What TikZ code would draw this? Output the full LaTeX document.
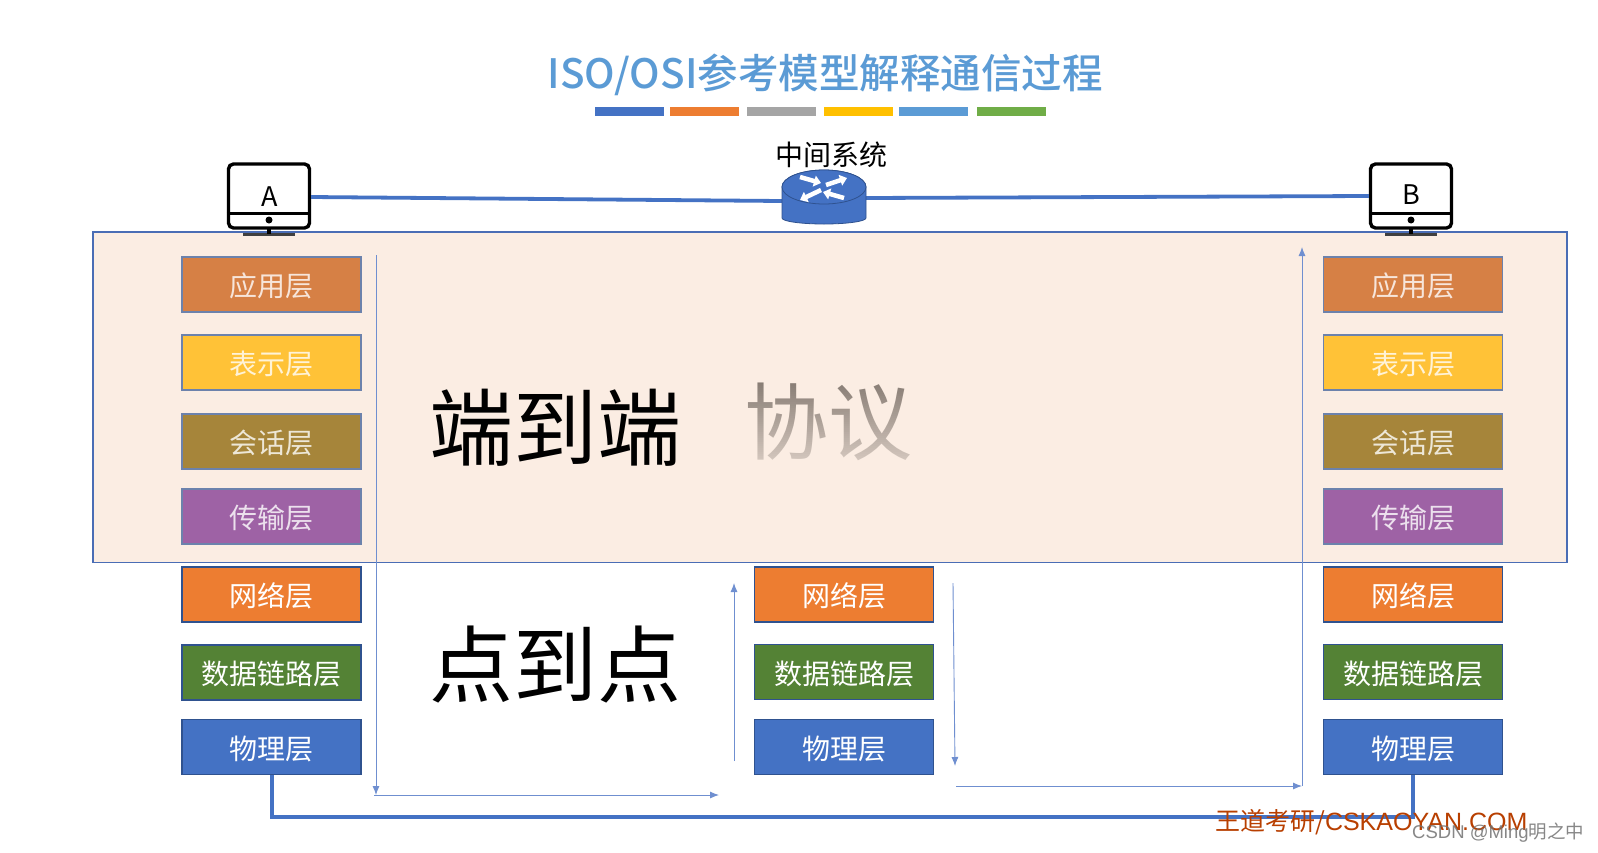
\documentclass[tikz,border=0pt]{standalone}
\usepackage{fontspec}
\setmainfont{Noto Sans CJK SC}
\newfontfamily\latinfont{Liberation Sans}
\newfontfamily\titlefont{Noto Sans CJK SC Medium}
\usetikzlibrary{arrows.meta,calc}
\definecolor{cblue}{HTML}{4472C4}
\definecolor{corange}{HTML}{ED7D31}
\definecolor{cgray}{HTML}{A5A5A5}
\definecolor{cgold}{HTML}{FFC000}
\definecolor{csky}{HTML}{5B9BD5}
\definecolor{cgreen}{HTML}{70AD47}
\definecolor{bandfill}{HTML}{FBEDE3}
\definecolor{bandline}{HTML}{4A6DB5}
\definecolor{appc}{HTML}{D68045}
\definecolor{prec}{HTML}{FFC237}
\definecolor{sesc}{HTML}{A6853A}
\definecolor{trac}{HTML}{9E62A5}
\definecolor{datc}{HTML}{548235}
\definecolor{boxline}{HTML}{2F528F}
\definecolor{boxlinesoft}{HTML}{6C82AC}
\definecolor{thinc}{HTML}{6F8FD0}
\definecolor{markc}{HTML}{B83F00}
\definecolor{protoc}{HTML}{857A72}
\newcommand{\lay}[1]{\raisebox{-1.5pt}[\height][\depth]{#1}}
\tikzset{
  layerbase/.style={minimum width=179pt,minimum height=55pt,inner sep=0pt,font=\fontsize{28}{28}\selectfont},
  uplayer/.style={layerbase,draw=boxlinesoft,line width=1.3pt,text=white!80!#1,fill=#1},
  lowlayer/.style={layerbase,draw=boxline,line width=1.3pt,text=white,fill=#1},
  bar/.style={fill=#1,minimum width=69pt,minimum height=9pt,inner sep=0pt},
  screen/.style={draw=black,line width=3.4pt,rounded corners=5pt,minimum width=81pt,minimum height=64pt,inner sep=0pt,fill=white},
  wire/.style={draw=cblue,line width=3.8pt},
  thinarrow/.style={draw=thinc,line width=0.9pt,-{Latex[length=9pt,width=7pt]}},
  bigtext/.style={font=\fontsize{84}{84}\selectfont,inner sep=0pt},
  turn/.style={draw=white,line width=4.5pt,-{Triangle[length=7pt,width=11pt]}}
}
\begin{document}
\begin{tikzpicture}[x=1pt,y=-1pt]
\useasboundingbox (0,0) rectangle (1598,852);
\fill[white] (0,0) rectangle (1598,852);
% title
\node[inner sep=0pt,text=csky,font=\fontsize{40.5}{40.5}\selectfont\titlefont] (title) at (825,75) {ISO/OSI参考模型解释通信过程};
\node[bar=cblue] (b1) at (629.5,111.5) {};
\node[bar=corange] (b2) at (704.5,111.5) {};
\node[bar=cgray] (b3) at (781.5,111.5) {};
\node[bar=cgold] (b4) at (858,111.5) {};
\node[bar=csky] (b5) at (933.5,111.5) {};
\node[bar=cgreen] (b6) at (1011,111.5) {};
% band
\node[draw=bandline,fill=bandfill,line width=1.3pt,minimum width=1474pt,minimum height=330.5pt,inner sep=0pt] (band) at (830,397.25) {};
% monitors
\draw[line width=2.5pt,black!75] (243,234.5) -- (295,234.5);
\draw[line width=2.5pt,black!75] (1385,234.5) -- (1437,234.5);
\draw[line width=3.4pt] (269,228) -- (269,234);
\draw[line width=3.4pt] (1411,228) -- (1411,234);
\node[screen] (A) at (269,196) {};
\node[screen] (B) at (1411,196) {};
\draw[line width=3pt] (A.west |- 0,213) -- (A.east |- 0,213);
\draw[line width=3pt] (B.west |- 0,213) -- (B.east |- 0,213);
\fill (269,220) circle (3.5pt);
\fill (1411,220) circle (3.5pt);
\node[inner sep=0pt,font=\fontsize{27}{27}\selectfont] (la) at (270,197) {A};
\node[inner sep=0pt,font=\fontsize{27}{27}\selectfont] (lb) at (1411,195) {B};
% router
\node[minimum width=84pt,minimum height=54pt,inner sep=0pt] (router) at (824,197) {};
\draw[wire] ($(A.east)+(0,1)$) -- (router.west |- 0,201);
\draw[wire] (router.east |- 0,198) -- (B.west);
\draw[draw=boxline,line width=0.8pt,fill=cblue] (782,187) -- (782,218) arc[start angle=180,end angle=360,x radius=42pt,y radius=6pt] -- (866,187) arc[start angle=0,end angle=180,x radius=42pt,y radius=17pt];
\draw[draw=boxline,line width=0.8pt,fill=cblue] (824,187) ellipse[x radius=42pt,y radius=17pt];
\draw[turn] (800,177) -- (821,183);
\draw[turn] (826,185) -- (847,178);
\draw[turn] (821,190) -- (800,200);
\draw[turn] (844,198) -- (823,192);
\node[inner sep=0pt,font=\fontsize{28}{28}\selectfont] (midlabel) at (831,154.5) {中间系统};
% layers left
\node[uplayer=appc] (a1) at (271.5,284.5) {\lay{应用层}};
\node[uplayer=prec] (a2) at (271.5,362.5) {\lay{表示层}};
\node[uplayer=sesc] (a3) at (271.5,441.5) {\lay{会话层}};
\node[uplayer=trac] (a4) at (271.5,516.5) {\lay{传输层}};
\node[lowlayer=corange] (a5) at (271.5,594.5) {\lay{网络层}};
\node[lowlayer=datc] (a6) at (271.5,672.5) {\lay{数据链路层}};
\node[lowlayer=cblue] (a7) at (271.5,747) {\lay{物理层}};
% layers middle
\node[lowlayer=corange] (m5) at (844,594.5) {\lay{网络层}};
\node[lowlayer=datc] (m6) at (844,672) {\lay{数据链路层}};
\node[lowlayer=cblue] (m7) at (844,747) {\lay{物理层}};
% layers right
\node[uplayer=appc] (c1) at (1413,284.5) {\lay{应用层}};
\node[uplayer=prec] (c2) at (1413,362.5) {\lay{表示层}};
\node[uplayer=sesc] (c3) at (1413,441.5) {\lay{会话层}};
\node[uplayer=trac] (c4) at (1413,516.5) {\lay{传输层}};
\node[lowlayer=corange] (c5) at (1413,594.5) {\lay{网络层}};
\node[lowlayer=datc] (c6) at (1413,672) {\lay{数据链路层}};
\node[lowlayer=cblue] (c7) at (1413,747) {\lay{物理层}};
% big text
\node[bigtext] (e2e) at (555,428) {端到端};
\node[bigtext,text=protoc] (proto) at (828,422) {协议};
\foreach \i in {0,...,44}{
  \fill[bandfill,opacity=\i/44*0.72] (730,{378+2*\i}) rectangle (910,{380+2*\i});
}
\fill[bandfill,opacity=0.72] (730,468) rectangle (910,480);
\node[bigtext] (p2p) at (555,665) {点到点};
% thin arrows
\coordinate (t1) at (376,255);
\coordinate (t2) at (376,795);
\coordinate (t3) at (374,795);
\coordinate (t4) at (719,795);
\coordinate (t5) at (734,761);
\coordinate (t6) at (734,583);
\coordinate (t7) at (953,583);
\coordinate (t8) at (955,766);
\coordinate (t9) at (956,786);
\coordinate (t10) at (1302,786);
\coordinate (t11) at (1302,786);
\coordinate (t12) at (1302,247);
\draw[thinarrow] (t1) -- (t2);
\draw[thinarrow] (t3) -- (t4);
\draw[thinarrow] (t5) -- (t6);
\draw[thinarrow] (t7) -- (t8);
\draw[thinarrow] (t9) -- (t10);
\draw[thinarrow] (t11) -- (t12);
% link
\draw[cblue,line width=4pt] (a7.south) -- ++(0,42) -| (c7.south);
% marks
\node[inner sep=0pt,anchor=west,text=markc,font=\fontsize{25}{25}\selectfont] (wm1) at (1215,822) {王道考研/{\latinfont CSKAOYAN.COM}};
\node[inner sep=0pt,anchor=west,text=black!55,opacity=0.85,font=\fontsize{18.5}{18.5}\selectfont] (wm2) at (1412,833) {{\latinfont CSDN @Ming}明之中};
\end{tikzpicture}
\end{document}
